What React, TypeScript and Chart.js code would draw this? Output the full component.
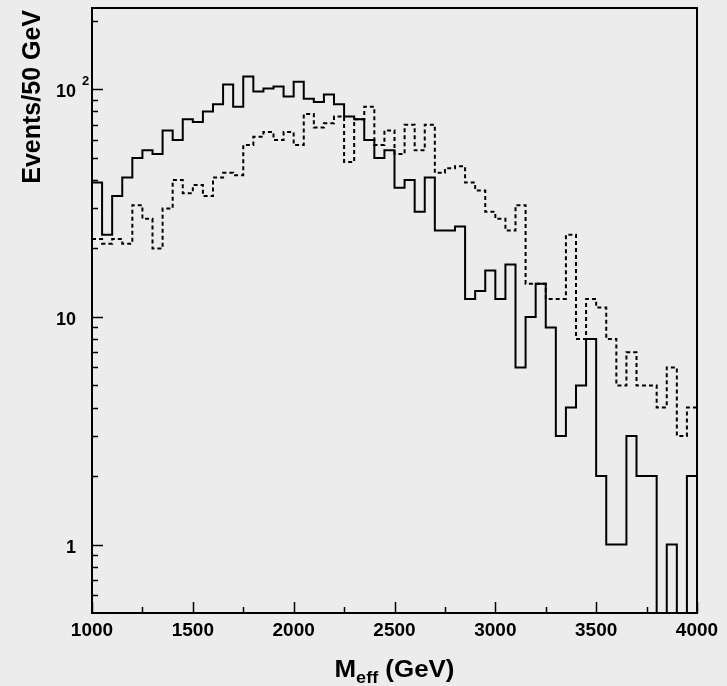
import React, { useEffect, useRef } from "react";
import { Chart, registerables } from "chart.js";

Chart.register(...registerables);

// ---- data (events per 50 GeV bin, 1000-4000 GeV) ----
const BIN_START = 1000;
const BIN_WIDTH = 50;
const X_MIN = 1000;
const X_MAX = 4000;
const Y_MIN = 0.5;
const Y_MAX = 228;

const solidCounts = [
  39, 23, 34, 41, 50, 54, 52, 66, 60, 74,
  72, 80, 86, 105, 84, 114, 98, 101, 103, 93,
  108, 91, 88, 95, 86, 76, 74, 60, 50, 54,
  37, 40, 29, 41, 24, 24, 25, 12, 13, 16,
  12, 17, 6, 10, 14, 9, 3, 4, 5, 8,
  2, 1, 1, 3, 2, 2, 0, 1, 0, 2,
];

const dashedCounts = [
  22, 21, 22, 21, 31, 27, 20, 30, 40, 35,
  38, 34, 41, 43, 42, 57, 62, 65, 60, 65,
  57, 78, 68, 71, 76, 48, 74, 84, 57, 66,
  52, 70, 54, 70, 43, 45, 46, 39, 36, 29,
  27, 24, 31, 14, 14, 12, 12, 23, 8, 12,
  11, 8, 5, 7, 5, 5, 4, 6, 3, 4,
];

const xTickValues = [1000, 1500, 2000, 2500, 3000, 3500, 4000];
const xTickLabels = ["1000", "1500", "2000", "2500", "3000", "3500", "4000"];
const xMinorTicks = [1250, 1750, 2250, 2750, 3250, 3750];

const yMajorTicks = [1, 10, 100];
const yTickBase = ["1", "10", "10"];
const yTickSup = ["", "", "2"];
const yMinorTicks = [0.6, 0.7, 0.8, 0.9, 2, 3, 4, 5, 6, 7, 8, 9, 20, 30, 40, 50, 60, 70, 80, 90, 200];

const yTitle = "Events/50 GeV";
const xTitleMain = "M";
const xTitleSub = "eff";
const xTitleRest = " (GeV)";

const FONT = '"Liberation Sans", Arial, Helvetica, sans-serif';

function toPoints(counts: number[]) {
  const pts = counts.map((c, i) => ({ x: BIN_START + BIN_WIDTH * i, y: c > 0 ? c : 1e-3 }));
  const last = counts[counts.length - 1];
  pts.push({ x: BIN_START + BIN_WIDTH * counts.length, y: last > 0 ? last : 1e-3 });
  return pts;
}

const decorPlugin = {
  id: "decor",
  beforeDraw(chart: any) {
    const ctx = chart.ctx;
    ctx.save();
    ctx.fillStyle = "#ececec";
    ctx.fillRect(0, 0, chart.width, chart.height);
    ctx.restore();
  },
  afterDraw(chart: any) {
    const ctx: CanvasRenderingContext2D = chart.ctx;
    const a = chart.chartArea;
    const xs = chart.scales.x;
    const ys = chart.scales.y;
    ctx.save();
    ctx.strokeStyle = "#000";
    ctx.fillStyle = "#000";
    ctx.lineWidth = 2;
    ctx.strokeRect(a.left, a.top, a.right - a.left, a.bottom - a.top);

    ctx.lineWidth = 1.5;
    ctx.beginPath();
    xTickValues.forEach((v) => {
      const px = Math.round(xs.getPixelForValue(v)) + 0.5;
      ctx.moveTo(px, a.bottom);
      ctx.lineTo(px, a.bottom - 11);
    });
    xMinorTicks.forEach((v) => {
      const px = Math.round(xs.getPixelForValue(v)) + 0.5;
      ctx.moveTo(px, a.bottom);
      ctx.lineTo(px, a.bottom - 6);
    });
    yMajorTicks.forEach((v) => {
      const py = Math.round(ys.getPixelForValue(v)) + 0.5;
      ctx.moveTo(a.left, py);
      ctx.lineTo(a.left + 11, py);
    });
    yMinorTicks.forEach((v) => {
      const py = Math.round(ys.getPixelForValue(v)) + 0.5;
      ctx.moveTo(a.left, py);
      ctx.lineTo(a.left + 6, py);
    });
    ctx.stroke();

    // x tick labels
    ctx.font = `bold 19px ${FONT}`;
    ctx.textAlign = "center";
    ctx.textBaseline = "alphabetic";
    xTickValues.forEach((v, i) => {
      ctx.fillText(xTickLabels[i], xs.getPixelForValue(v), a.bottom + 23);
    });

    // y tick labels
    yMajorTicks.forEach((v, i) => {
      const py = ys.getPixelForValue(v);
      ctx.font = `bold 18px ${FONT}`;
      ctx.textAlign = "right";
      ctx.fillText(yTickBase[i], a.left - 16, py + 8);
      if (yTickSup[i]) {
        ctx.font = `bold 13px ${FONT}`;
        ctx.textAlign = "left";
        ctx.fillText(yTickSup[i], a.left - 10, py - 4);
      }
    });

    // y title
    ctx.save();
    ctx.font = `bold 25px ${FONT}`;
    ctx.translate(40, a.top + 2);
    ctx.rotate(-Math.PI / 2);
    ctx.textAlign = "right";
    ctx.fillText(yTitle, 0, 0);
    ctx.restore();

    // x title with subscript, fitted to measured width
    ctx.save();
    const bigFont = `bold 23px ${FONT}`;
    const smallFont = `bold 16px ${FONT}`;
    ctx.font = bigFont;
    const wM = ctx.measureText(xTitleMain).width;
    const wR = ctx.measureText(xTitleRest).width;
    ctx.font = smallFont;
    const wS = ctx.measureText(xTitleSub).width;
    const natural = wM + wS + wR;
    const target = 120;
    const sx = target / natural;
    const cx = (a.left + a.right) / 2;
    const baseY = a.bottom + 64;
    ctx.translate(cx - target / 2, baseY);
    ctx.scale(sx, 1);
    ctx.textAlign = "left";
    ctx.font = bigFont;
    ctx.fillText(xTitleMain, 0, 0);
    ctx.font = smallFont;
    ctx.fillText(xTitleSub, wM, 6);
    ctx.font = bigFont;
    ctx.fillText(xTitleRest, wM + wS, 0);
    ctx.restore();

    ctx.restore();
  },
};

export default function App() {
  const ref = useRef<HTMLCanvasElement | null>(null);
  useEffect(() => {
    if (!ref.current) return;
    const chart = new Chart(ref.current, {
      type: "line",
      data: {
        datasets: [
          {
            label: "solid",
            data: toPoints(solidCounts),
            borderColor: "#000",
            borderWidth: 2,
            pointRadius: 0,
            stepped: "before",
            fill: false,
          },
          {
            label: "dashed",
            data: toPoints(dashedCounts),
            borderColor: "#000",
            borderWidth: 2,
            borderDash: [4, 3],
            pointRadius: 0,
            stepped: "before",
            fill: false,
          },
        ],
      },
      options: {
        responsive: false,
        animation: false,
        devicePixelRatio: 1,
        layout: { padding: { left: 92, right: 30, top: 8, bottom: 73 } },
        plugins: { legend: { display: false }, tooltip: { enabled: false } },
        scales: {
          x: { type: "linear", min: X_MIN, max: X_MAX, display: false },
          y: { type: "logarithmic", min: Y_MIN, max: Y_MAX, display: false },
        },
      },
      plugins: [decorPlugin],
    });
    return () => chart.destroy();
  }, []);
  return (
    <div style={{ position: "absolute", left: 0, top: 0, width: 727, height: 686 }}>
      <canvas ref={ref} width={727} height={686} style={{ display: "block" }} />
    </div>
  );
}
